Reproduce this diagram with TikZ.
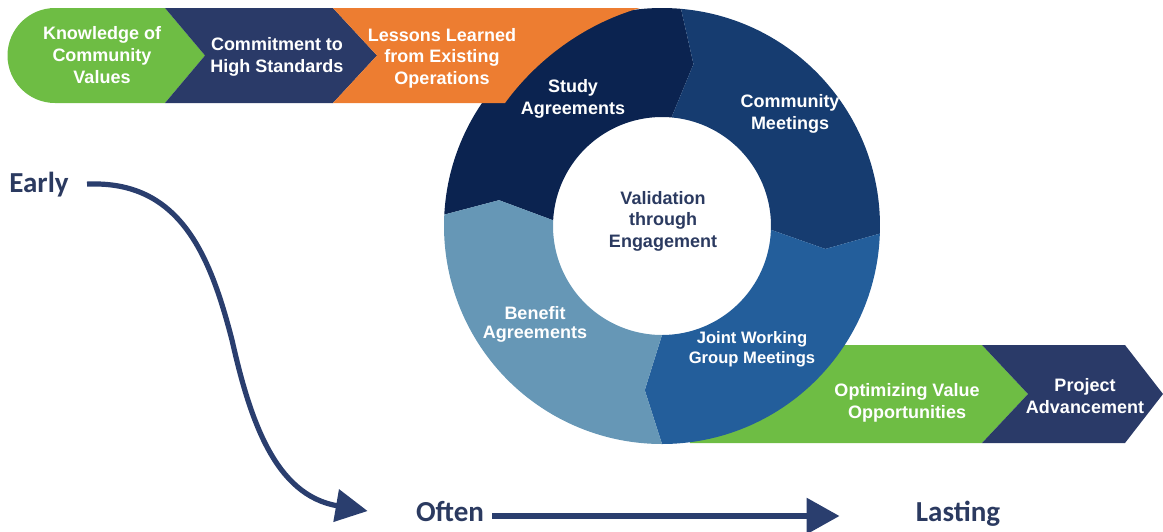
\documentclass[tikz,border=0pt]{standalone}
\usepackage{fontspec}
\setmainfont{Liberation Sans}
\newfontfamily\calibrifont{Carlito}
\usetikzlibrary{calc,arrows.meta}

\definecolor{leafgreen}{RGB}{110,189,68}
\definecolor{bannernavy}{RGB}{42,58,104}
\definecolor{lessonorange}{RGB}{237,125,49}
\definecolor{studyblue}{RGB}{11,35,80}
\definecolor{meetingblue}{RGB}{22,60,112}
\definecolor{jointblue}{RGB}{35,94,155}
\definecolor{benefitblue}{RGB}{102,151,182}
\definecolor{inknavy}{RGB}{43,58,96}
\definecolor{arrownavy}{RGB}{42,62,110}

\begin{document}
\begin{tikzpicture}[x=0.5pt, y=-0.5pt,
  boxtext/.style={text=white, font=\bfseries\fontsize{9}{10.8}\selectfont, align=center, inner sep=1pt},
  phase/.style={text=inknavy, font=\calibrifont\bfseries\fontsize{14.5}{16}\selectfont, inner sep=1pt},
  flow/.style={draw=arrownavy, line width=2.6pt, -{Triangle[length=16pt,width=16pt]}}]
  \useasboundingbox (0,0) rectangle (1163,531);

  % Bottom banner, behind the ring
  \fill[leafgreen] (690,345) -- (982,345) -- (1028,394) -- (982,443) -- (690,443) -- cycle;
  \fill[bannernavy] (982,345) -- (1125,345) -- (1163,394) -- (1125,443) -- (982,443) -- (1028,394) -- cycle;

  % Top banner
  \fill[leafgreen] (55,8) -- (165,8) -- (205,55.5) -- (165,103) -- (55,103) arc[start angle=90, end angle=270, radius=47.5] -- cycle;
  \fill[bannernavy] (165,8) -- (333,8) -- (377,55.5) -- (333,103) -- (165,103) -- (205,55.5) -- cycle;

  % The ring
  \coordinate (c) at (662,226);
  \fill[studyblue] ($(c)+(-177:218)$) arc[start angle=-177, end angle=-85, radius=218]
    -- ($(c)+(-79:165)$) -- ($(c)+(-85:109)$) arc[start angle=-85, end angle=-177, radius=109]
    -- ($(c)+(-171:165)$) -- cycle;
  \fill[meetingblue] ($(c)+(-85:218)$) arc[start angle=-85, end angle=2, radius=218]
    -- ($(c)+(8:165)$) -- ($(c)+(2:109)$) arc[start angle=2, end angle=-85, radius=109]
    -- ($(c)+(-79:165)$) -- cycle;
  \fill[jointblue] ($(c)+(2:218)$) arc[start angle=2, end angle=90, radius=218]
    -- ($(c)+(96:165)$) -- ($(c)+(90:109)$) arc[start angle=90, end angle=2, radius=109]
    -- ($(c)+(8:165)$) -- cycle;
  \fill[benefitblue] ($(c)+(90:218)$) arc[start angle=90, end angle=183, radius=218]
    -- ($(c)+(189:165)$) -- ($(c)+(183:109)$) arc[start angle=183, end angle=90, radius=109]
    -- ($(c)+(96:165)$) -- cycle;

  % Last top chevron lies over the ring
  \fill[lessonorange] (333,8) -- (640,8) .. controls (590,22) and (540,55) .. (505,103) -- (333,103) -- (377,55.5) -- cycle;

  % Define the nodes
  \node[boxtext] (knowledge) at (102,55) {Knowledge of\\Community\\Values};
  \node[boxtext] (commitment) at (277,57) {Commitment to\\High Standards};
  \node[boxtext] (lessons) at (442,58) {Lessons Learned\\from Existing\\Operations};
  \node[boxtext] (study) at (573,99) {Study\\Agreements};
  \node[boxtext] (community) at (790,114) {Community\\Meetings};
  \node[boxtext, text=inknavy] (validation) at (663,221) {Validation\\through\\Engagement};
  \node[boxtext, font=\bfseries\fontsize{9}{9.6}\selectfont] (benefit) at (535,324) {Benefit\\Agreements};
  \node[boxtext, font=\bfseries\fontsize{8.3}{9.8}\selectfont] (joint) at (752,349) {Joint Working\\Group Meetings};
  \node[boxtext] (optimizing) at (907,403) {Optimizing Value\\Opportunities};
  \node[boxtext] (project) at (1085,396) {Project\\Advancement};

  \node[phase, anchor=base] (early) at (39,192) {Early};
  \node[phase, anchor=base] (often) at (450,521) {Often};
  \node[phase, anchor=base] (lasting) at (958,521) {Lasting};

  % Draw the arrows
  \draw[flow] ([xshift=8pt]early.east) .. controls (180,180) and (210,255) .. (232,340)
    .. controls (250,420) and (275,495) .. ([xshift=-23pt]often.west);
  \draw[flow, line width=3pt, -{Triangle[length=16.5pt,width=17.5pt]}]
    ([xshift=3pt,yshift=2.5pt]often.base east) -- ([xshift=-37pt,yshift=2.5pt]lasting.base west);
\end{tikzpicture}
\end{document}
